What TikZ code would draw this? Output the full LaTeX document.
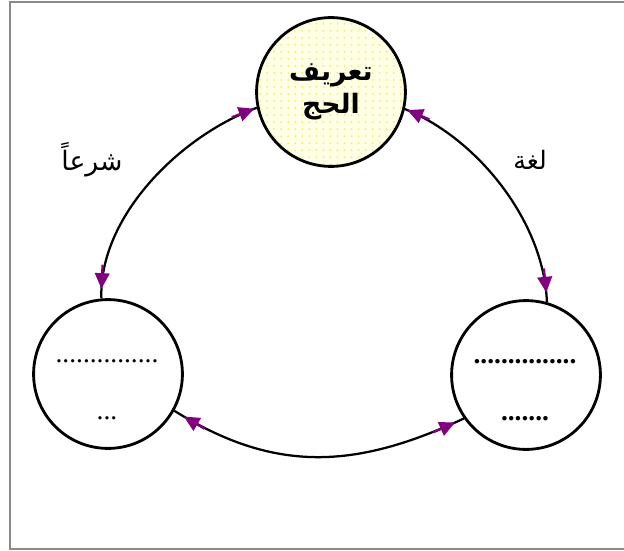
\documentclass[tikz,border=0pt]{standalone}
\usepackage{fontspec}
\setmainfont{Liberation Serif}
\newfontfamily\arabicfont[Script=Arabic]{DejaVu Sans}
\TeXXeTstate=1
\usetikzlibrary{arrows.meta, positioning, patterns.meta, decorations.markings}
\definecolor{hajjyellow}{HTML}{FFFFE6}
\definecolor{hajjdots}{HTML}{F2EE80}
\definecolor{tippurple}{HTML}{800080}
\definecolor{framegrey}{HTML}{8A8A8A}

\tikzset{
  topic/.style={circle, draw=black, line width=2pt, minimum size=3.72cm, inner sep=0pt},
  dotrow/.style={anchor=base, inner sep=0pt, font=\fontsize{19.5}{24}\selectfont},
  link/.style={draw=black, line width=1.6pt, postaction={decorate}, decoration={markings,
      mark=at position #1 with {\fill[tippurple] (0,0) -- (11pt,5.4pt) -- (11pt,-5.4pt) -- cycle;
        \draw[tippurple, line width=1.6pt] (10pt,0) -- (17pt,0);},
      mark=at position -7pt with {\fill[tippurple] (0,0) -- (-11pt,5.4pt) -- (-11pt,-5.4pt) -- cycle;
        \draw[tippurple, line width=1.6pt] (-10pt,0) -- (-17pt,0);}}},
  link/.default=2pt
}

\begin{document}
\begin{tikzpicture}[x=0.025cm, y=-0.025cm]
  \useasboundingbox (0,0) rectangle (624,551);
  \draw[framegrey, line width=2.1pt] (626,2) -- (10,2) -- (10,549) -- (626,549);

  % the three circles
  \node[topic, preaction={fill=hajjyellow}, pattern={Dots[distance=5pt, radius=0.8pt]}, pattern color=hajjdots,
        font=\arabicfont\bfseries\fontsize{19}{24}\selectfont, align=center]
    (hajj) at (331,92) {\beginR تعريف\endR\\\beginR الحج\endR};
  \node[topic] (shari) at (108,374) {};
  \node[topic] (lugha) at (526,375) {};

  % dotted blanks
  \node[dotrow] (shariA) at (107,362) {...............};
  \node[dotrow] (shariB) at (107,419) {...};
  \node[dotrow, font=\bfseries\fontsize{19.5}{24}\selectfont] (lughaA) at (525,363) {...............};
  \node[dotrow, font=\bfseries\fontsize{19.5}{24}\selectfont] (lughaB) at (525,420) {.......};

  % labels
  \node[font=\arabicfont\fontsize{19}{22}\selectfont] (shariLbl) at (92,160) {\beginR شرعاً\endR};
  \node[font=\arabicfont\fontsize{18}{22}\selectfont] (lughaLbl) at (530,160) {\beginR لغة\endR};

  % connectors
  \draw[link] (hajj.192) to[out=200, in=92, looseness=0.85] (shari.95);
  \draw[link] (hajj.347) to[out=-22, in=92, looseness=0.85] (lugha.74);
  \draw[link=8pt] (shari.331) to[out=-32, in=205, looseness=1.05] (lugha.215);
\end{tikzpicture}
\end{document}
